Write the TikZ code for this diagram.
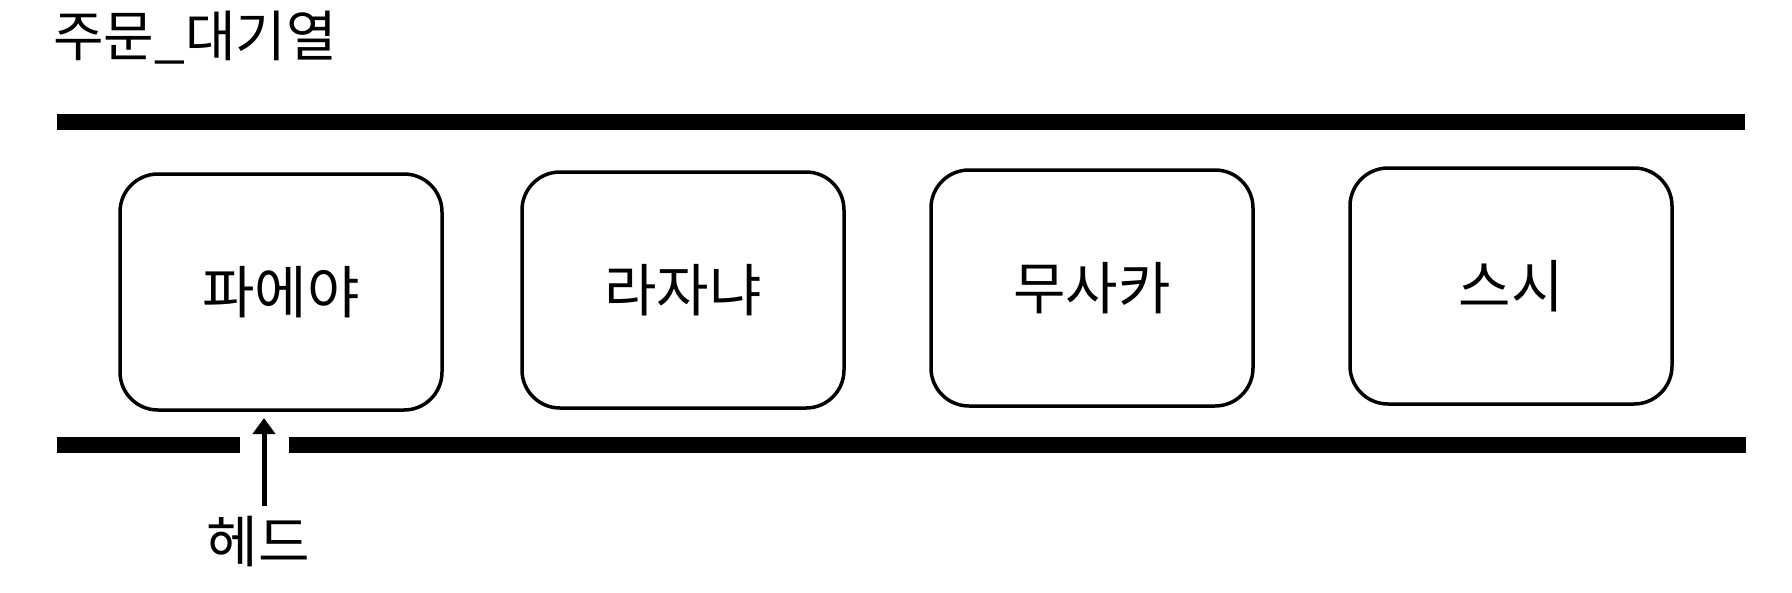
\documentclass[tikz,border=0pt]{standalone}
\usepackage{fontspec}
\setmainfont{Noto Sans CJK KR}
\usetikzlibrary{arrows.meta}
\begin{document}
\begin{tikzpicture}[x=1pt,y=-1pt,
  rail/.style={line width=16pt,line cap=butt},
  item/.style={draw,line width=3.5pt,rounded corners=38pt,minimum width=322pt,minimum height=236pt,inner sep=0pt,font=\fontsize{57}{66}\selectfont},
  lbl/.style={inner sep=0pt,font=\fontsize{55}{64}\selectfont}]
\useasboundingbox (0,0) rectangle (1792,592);
\node[lbl,anchor=west] (title) at (53,38) {주문\_대기열};
\draw[rail] (57,122) -- (1745,122);
\draw[rail] (57,445) -- (240,445);
\draw[rail] (289,445) -- (1746,445);
\node[item] (b1) at (281,292) {파에야};
\node[item] (b2) at (683,290) {라자냐};
\node[item] (b3) at (1092,288) {무사카};
\node[item] (b4) at (1511,286) {스시};
\node[lbl,font=\fontsize{56}{64}\selectfont] (head) at (258,542) {헤드};
\coordinate (tail) at (264,506);
\coordinate (tip) at (264,418);
\draw[line width=5pt,-{Triangle[length=16pt,width=22pt]}] (tail) -- (tip);
\end{tikzpicture}
\end{document}
